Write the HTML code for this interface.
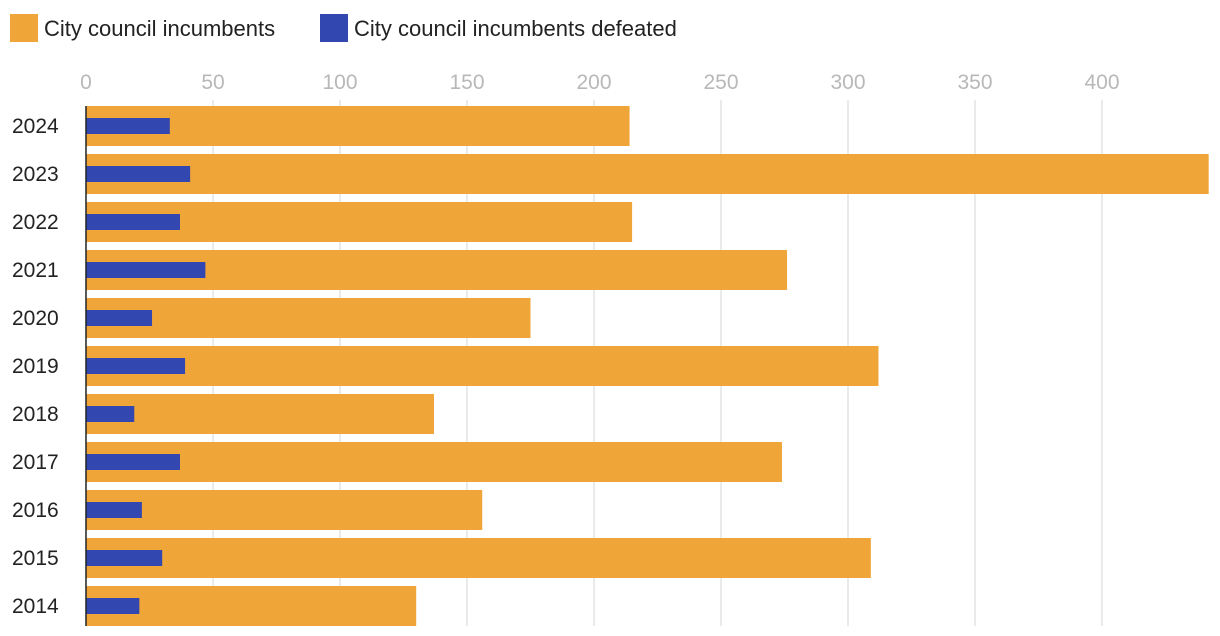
<!DOCTYPE html>
<html><head><meta charset="utf-8"><style>
body{margin:0;background:#fff;font-family:"Liberation Sans",sans-serif;}
svg{display:block}
</style></head><body>
<svg id="chart" width="1220" height="636" xmlns="http://www.w3.org/2000/svg">
<g>
<rect x="10" y="14" width="28" height="28" fill="#f0a538"/>
<text x="44" y="36" font-size="22" fill="#222">City council incumbents</text>
<rect x="320" y="14" width="28" height="28" fill="#3347b0"/>
<text x="354" y="36" font-size="22" fill="#222">City council incumbents defeated</text>
</g>
<g id="grid"></g><g id="bars"></g><g id="labels"></g>
</svg>
<script>
const years=["2024","2023","2022","2021","2020","2019","2018","2017","2016","2015","2014"];
const incumbents=[214,442,215,276,175,312,137,274,156,309,130];
const defeated=[33,41,37,47,26,39,19,37,22,30,21];
const ticks=[0,50,100,150,200,250,300,350,400];
const NS="http://www.w3.org/2000/svg";
const x0=86,pxPer=2.54,top0=106,pitch=48;
const xs=v=>x0+v*pxPer;
function mk(tag,attrs,parent){const e=document.createElementNS(NS,tag);for(const k in attrs)e.setAttribute(k,attrs[k]);parent.appendChild(e);return e;}
const grid=document.getElementById('grid'),bars=document.getElementById('bars'),labels=document.getElementById('labels');
ticks.forEach(t=>{
 if(t>0){const l=mk('line',{x1:xs(t),x2:xs(t),y1:100,y2:626,stroke:'#e3e3e3','stroke-width':1.5},grid);
 
 }
 const tx=mk('text',{x:xs(t),y:89,'font-size':21,fill:'#b8b8b8','text-anchor':'middle'},labels);
 tx.textContent=t;
 
 
});
years.forEach((y,i)=>{
 const yt=top0+i*pitch;
 const o=mk('rect',{x:x0,y:yt,width:xs(incumbents[i])-x0,height:40,fill:'#f0a538'},bars);
 
 
 const b=mk('rect',{x:x0,y:yt+12,width:xs(defeated[i])-x0,height:16,fill:'#3347b0'},bars);
 
 
 const t=mk('text',{x:12,y:yt+27,'font-size':21,fill:'#222'},labels);
 t.textContent=y;
 
 
});
const ax=mk('line',{x1:x0,x2:x0,y1:106,y2:626,stroke:'#222','stroke-width':1.5},labels);


</script>
</body></html>
